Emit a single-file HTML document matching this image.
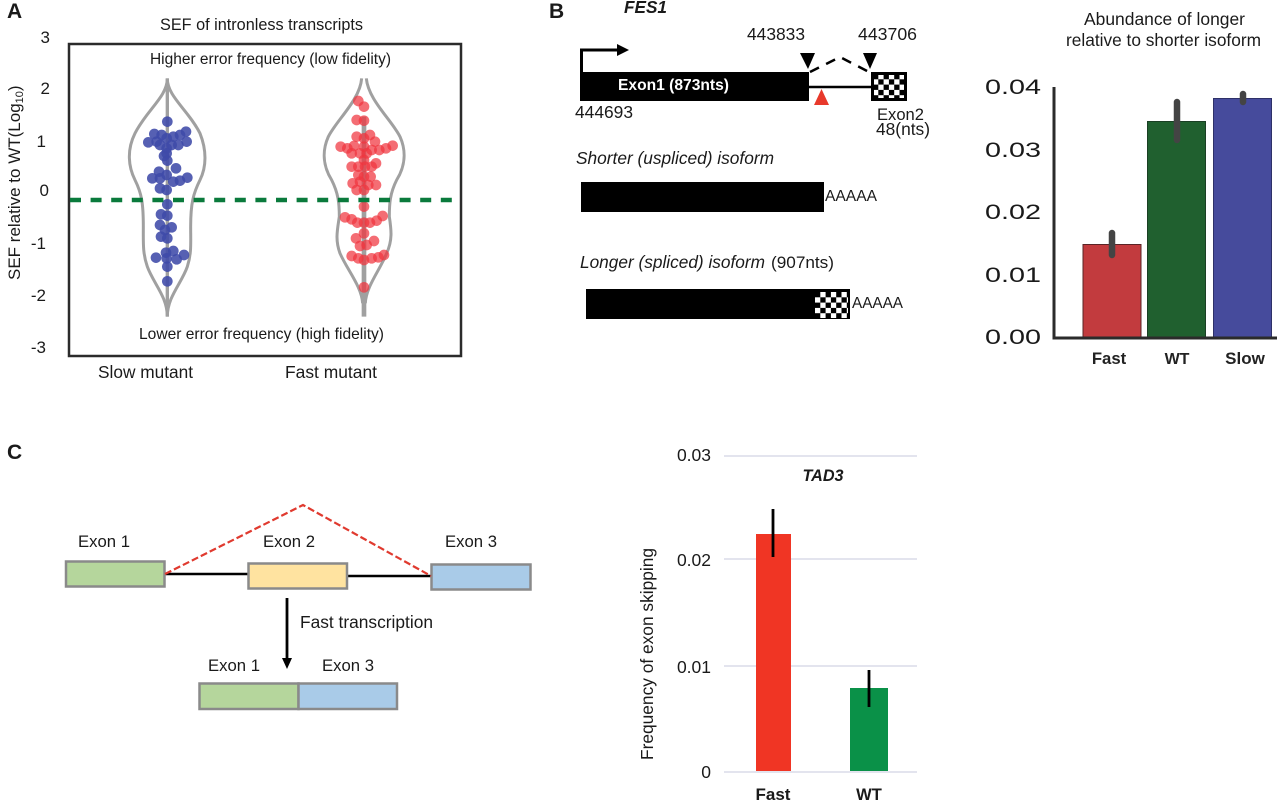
<!DOCTYPE html>
<html><head><meta charset="utf-8"><style>
html,body{margin:0;padding:0;background:#fff}
svg{display:block;filter:blur(0.35px)}
text{font-family:"Liberation Sans",sans-serif;fill:#1a1a1a;font-size:17px}
.b{font-weight:bold}
.i{font-style:italic}
</style></head><body>
<svg width="1280" height="802" viewBox="0 0 1280 802" xmlns="http://www.w3.org/2000/svg">
<defs>
<pattern id="chk" x="873" y="74" width="10.600" height="10.600" patternUnits="userSpaceOnUse">
<rect width="10.600" height="10.600" fill="#fff"/><rect width="5.300" height="5.300" fill="#000"/><rect x="5.300" y="5.300" width="5.300" height="5.300" fill="#000"/>
</pattern>
<pattern id="chk2" x="815" y="292" width="10.600" height="10.600" patternUnits="userSpaceOnUse">
<rect width="10.600" height="10.600" fill="#fff"/><rect width="5.300" height="5.300" fill="#000"/><rect x="5.300" y="5.300" width="5.300" height="5.300" fill="#000"/>
</pattern>
</defs>
<rect width="1280" height="802" fill="#fff"/>

<!-- Panel A -->
<text x="7" y="18" class="b" style="font-size:21px">A</text>
<text x="160" y="30" textLength="203" lengthAdjust="spacingAndGlyphs" style="font-size:16.2px">SEF of intronless transcripts</text>
<rect x="69" y="44" width="392" height="312" fill="none" stroke="#2b2b2b" stroke-width="2.5"/>
<text x="150" y="64" textLength="241" lengthAdjust="spacingAndGlyphs" style="font-size:15.5px">Higher error frequency (low fidelity)</text>
<text x="139" y="339" textLength="245" lengthAdjust="spacingAndGlyphs" style="font-size:15.6px">Lower error frequency (high fidelity)</text>
<text x="98" y="378" textLength="95" lengthAdjust="spacingAndGlyphs" style="font-size:17.3px">Slow mutant</text>
<text x="285" y="378" textLength="92" lengthAdjust="spacingAndGlyphs" style="font-size:17.4px">Fast mutant</text>
<text x="50" y="43" text-anchor="end">3</text>
<text x="50" y="94" text-anchor="end">2</text>
<text x="46" y="147" text-anchor="end">1</text>
<text x="49" y="196" text-anchor="end">0</text>
<text x="46" y="249" text-anchor="end">-1</text>
<text x="46" y="301" text-anchor="end">-2</text>
<text x="46" y="353" text-anchor="end">-3</text>
<text transform="translate(20,280) rotate(-90)">SEF relative to WT(Log<tspan dy="3" style="font-size:11px">10</tspan><tspan dy="-3">)</tspan></text>

<g transform="translate(60,70) scale(0.3333)">
<path d="M322,25 C322,80 260,120 225,190 C200,240 205,290 225,330 C245,370 250,400 250,470 C250,520 248,550 262,590 C280,640 322,680 322,740 C322,680 365,640 382,590 C395,550 392,520 392,470 C392,400 400,370 420,330 C440,290 440,240 420,190 C385,120 322,80 322,25 Z" fill="none" stroke="#a0a0a0" stroke-width="9"/>
<line x1="322" y1="25" x2="322" y2="740" stroke="#a0a0a0" stroke-width="10"/>
<g fill="#3f4aa8" fill-opacity="0.88">
<circle cx="322" cy="155" r="16"/><circle cx="378" cy="185" r="16"/><circle cx="283" cy="192" r="16"/><circle cx="265" cy="217" r="16"/><circle cx="290" cy="215" r="16"/><circle cx="305" cy="195" r="16"/><circle cx="320" cy="205" r="16"/><circle cx="340" cy="200" r="16"/><circle cx="360" cy="195" r="16"/><circle cx="380" cy="215" r="16"/><circle cx="355" cy="225" r="16"/><circle cx="335" cy="225" r="16"/><circle cx="300" cy="225" r="16"/><circle cx="320" cy="235" r="16"/><circle cx="320" cy="250" r="16"/><circle cx="312" cy="258" r="16"/><circle cx="322" cy="272" r="16"/><circle cx="348" cy="295" r="16"/><circle cx="297" cy="305" r="16"/><circle cx="277" cy="325" r="16"/><circle cx="300" cy="325" r="16"/><circle cx="320" cy="315" r="16"/><circle cx="340" cy="335" r="16"/><circle cx="360" cy="332" r="16"/><circle cx="382" cy="323" r="16"/><circle cx="300" cy="355" r="16"/><circle cx="320" cy="360" r="16"/><circle cx="322" cy="403" r="16"/><circle cx="303" cy="433" r="16"/><circle cx="322" cy="437" r="16"/><circle cx="300" cy="465" r="16"/><circle cx="335" cy="472" r="16"/><circle cx="315" cy="480" r="16"/><circle cx="303" cy="500" r="16"/><circle cx="322" cy="505" r="16"/><circle cx="340" cy="543" r="16"/><circle cx="318" cy="548" r="16"/><circle cx="288" cy="563" r="16"/><circle cx="320" cy="565" r="16"/><circle cx="350" cy="568" r="16"/><circle cx="372" cy="555" r="16"/><circle cx="322" cy="590" r="16"/><circle cx="322" cy="634" r="16"/>
</g>
</g>

<g transform="translate(260,70) scale(0.3333)">
<path d="M305,25 C300,90 230,150 205,200 C185,245 190,290 215,330 C235,370 238,400 238,440 C232,480 225,510 240,550 C262,600 305,650 308,700 M319,25 C325,90 395,150 420,200 C440,245 435,290 410,330 C390,370 388,400 388,440 C394,480 398,510 380,550 C360,600 318,650 316,700" fill="none" stroke="#a0a0a0" stroke-width="9"/>
<line x1="312" y1="140" x2="312" y2="740" stroke="#a0a0a0" stroke-width="14"/>
<g fill="#f0353f" fill-opacity="0.72">
<circle cx="295" cy="93" r="16"/><circle cx="312" cy="110" r="16"/><circle cx="290" cy="150" r="16"/><circle cx="312" cy="152" r="16"/><circle cx="290" cy="200" r="16"/><circle cx="312" cy="205" r="16"/><circle cx="330" cy="195" r="16"/><circle cx="345" cy="215" r="16"/><circle cx="242" cy="230" r="16"/><circle cx="262" cy="235" r="16"/><circle cx="282" cy="228" r="16"/><circle cx="312" cy="230" r="16"/><circle cx="335" cy="240" r="16"/><circle cx="358" cy="240" r="16"/><circle cx="378" cy="235" r="16"/><circle cx="398" cy="227" r="16"/><circle cx="275" cy="250" r="16"/><circle cx="300" cy="250" r="16"/><circle cx="320" cy="250" r="16"/><circle cx="312" cy="270" r="16"/><circle cx="348" cy="280" r="16"/><circle cx="275" cy="290" r="16"/><circle cx="295" cy="290" r="16"/><circle cx="315" cy="290" r="16"/><circle cx="335" cy="290" r="16"/><circle cx="295" cy="315" r="16"/><circle cx="312" cy="320" r="16"/><circle cx="332" cy="320" r="16"/><circle cx="278" cy="340" r="16"/><circle cx="300" cy="335" r="16"/><circle cx="325" cy="345" r="16"/><circle cx="348" cy="345" r="16"/><circle cx="290" cy="360" r="16"/><circle cx="312" cy="360" r="16"/><circle cx="312" cy="410" r="16"/><circle cx="255" cy="442" r="16"/><circle cx="275" cy="448" r="16"/><circle cx="292" cy="458" r="16"/><circle cx="312" cy="458" r="16"/><circle cx="330" cy="458" r="16"/><circle cx="350" cy="452" r="16"/><circle cx="368" cy="438" r="16"/><circle cx="312" cy="490" r="16"/><circle cx="288" cy="505" r="16"/><circle cx="342" cy="513" r="16"/><circle cx="300" cy="528" r="16"/><circle cx="320" cy="525" r="16"/><circle cx="275" cy="558" r="16"/><circle cx="295" cy="565" r="16"/><circle cx="312" cy="570" r="16"/><circle cx="335" cy="565" r="16"/><circle cx="355" cy="562" r="16"/><circle cx="372" cy="555" r="16"/><circle cx="312" cy="652" r="16"/>
</g>
</g>
<line x1="70" y1="200" x2="452" y2="200" stroke="#0a7a3c" stroke-width="4.5" stroke-dasharray="11 9.6"/>

<!-- Panel B gene model -->
<text x="549" y="18" class="b" style="font-size:21px">B</text>
<text x="624" y="13" class="b i" textLength="43" lengthAdjust="spacingAndGlyphs" style="font-size:17.2px">FES1</text>
<text x="747" y="40" textLength="58" lengthAdjust="spacingAndGlyphs" style="font-size:17.4px">443833</text>
<text x="858" y="40" textLength="59" lengthAdjust="spacingAndGlyphs" style="font-size:17.4px">443706</text>
<path d="M581.5,73 V50 H619" fill="none" stroke="#000" stroke-width="3"/>
<polygon points="617,44 629,50 617,56" fill="#000"/>
<rect x="580" y="72" width="229" height="29" fill="#000"/>
<text x="618" y="90" class="b" textLength="111" lengthAdjust="spacingAndGlyphs" style="fill:#fff;font-size:15.6px">Exon1 (873nts)</text>
<line x1="809" y1="87" x2="871" y2="87" stroke="#000" stroke-width="2.5"/>
<rect x="872.500" y="73.500" width="33" height="26" fill="url(#chk)" stroke="#000" stroke-width="3"/>
<polygon points="800,53 815,53 808,69" fill="#000"/>
<polygon points="863,53 877,53 870,69" fill="#000"/>
<polygon points="814,105 829,105 821.5,89" fill="#e8392b"/>
<path d="M810,72 L840,57 L869,72" fill="none" stroke="#000" stroke-width="2.5" stroke-dasharray="10 8"/>
<text x="575" y="118" textLength="58" lengthAdjust="spacingAndGlyphs" style="font-size:17.4px">444693</text>
<text x="877" y="120" textLength="47" lengthAdjust="spacingAndGlyphs" style="font-size:16.6px">Exon2</text>
<text x="876" y="135" textLength="54" lengthAdjust="spacingAndGlyphs" style="font-size:17.3px">48(nts)</text>

<text x="576" y="164" class="i" textLength="198" lengthAdjust="spacingAndGlyphs" style="font-size:17.3px">Shorter (uspliced) isoform</text>
<rect x="581" y="182" width="243" height="30" fill="#000"/>
<text x="825" y="201" textLength="52" lengthAdjust="spacingAndGlyphs" style="font-size:15.6px">AAAAA</text>
<text x="580" y="268" class="i" textLength="185" lengthAdjust="spacingAndGlyphs" style="font-size:17.2px">Longer (spliced) isoform</text>
<text x="771" y="268" textLength="63" lengthAdjust="spacingAndGlyphs" style="font-size:16.4px">(907nts)</text>
<rect x="586" y="289" width="264" height="30" fill="#000"/>
<rect x="815" y="292" width="33" height="26" fill="url(#chk2)"/>
<text x="852" y="308" textLength="51" lengthAdjust="spacingAndGlyphs" style="font-size:15.4px">AAAAA</text>

<!-- Panel B bars -->
<text x="1084" y="25" textLength="161" lengthAdjust="spacingAndGlyphs" style="font-size:17.4px">Abundance of longer</text>
<text x="1066" y="46" textLength="195" lengthAdjust="spacingAndGlyphs" style="font-size:17.3px">relative to shorter isoform</text>
<text x="985" y="94" textLength="56" lengthAdjust="spacingAndGlyphs" style="font-size:21.5px">0.04</text>
<text x="985" y="157" textLength="56" lengthAdjust="spacingAndGlyphs" style="font-size:21.5px">0.03</text>
<text x="985" y="219" textLength="56" lengthAdjust="spacingAndGlyphs" style="font-size:21.5px">0.02</text>
<text x="985" y="282" textLength="56" lengthAdjust="spacingAndGlyphs" style="font-size:21.5px">0.01</text>
<text x="985" y="344" textLength="56" lengthAdjust="spacingAndGlyphs" style="font-size:21.5px">0.00</text>
<rect x="1083" y="244.500" width="58" height="93" fill="#c23b3e" stroke="#5a2426" stroke-width="1"/>
<rect x="1147.500" y="121.500" width="58" height="216" fill="#20602f" stroke="#1a3f24" stroke-width="1"/>
<rect x="1213.500" y="98.500" width="58" height="239" fill="#464b9c" stroke="#2e3168" stroke-width="1"/>
<g stroke="#444" stroke-width="6.500" stroke-linecap="round">
<line x1="1112" y1="233" x2="1112" y2="255"/>
<line x1="1177" y1="102" x2="1177" y2="140"/>
<line x1="1243" y1="94" x2="1243" y2="102"/>
</g>
<path d="M1054,87 V338 H1277" fill="none" stroke="#2b2b2b" stroke-width="3"/>
<text x="1109" y="364" text-anchor="middle" class="b" style="font-size:16.7px;fill:#222">Fast</text>
<text x="1177" y="364" text-anchor="middle" class="b" style="font-size:16px;fill:#222">WT</text>
<text x="1245" y="364" text-anchor="middle" class="b" style="font-size:17px;fill:#222">Slow</text>

<!-- Panel C -->
<text x="7" y="459" class="b" style="font-size:21px">C</text>
<text x="104" y="547" text-anchor="middle" style="font-size:16.7px">Exon 1</text>
<text x="289" y="547" text-anchor="middle" style="font-size:16.7px">Exon 2</text>
<text x="471" y="547" text-anchor="middle" style="font-size:16.7px">Exon 3</text>
<line x1="165" y1="574" x2="248" y2="574" stroke="#000" stroke-width="2.5"/>
<line x1="347" y1="576" x2="431" y2="576" stroke="#000" stroke-width="2.5"/>
<rect x="66" y="561.500" width="98.500" height="25" fill="#b5d69c" stroke="#8a8a8a" stroke-width="2.500"/>
<rect x="248.500" y="563.500" width="98.500" height="25" fill="#ffe3a0" stroke="#8a8a8a" stroke-width="2.500"/>
<rect x="431.500" y="564.500" width="99" height="25" fill="#a9cbe8" stroke="#8a8a8a" stroke-width="2.500"/>
<path d="M165,574 L303,505 L431,576" fill="none" stroke="#e03a2f" stroke-width="2.2" stroke-dasharray="7 3"/>
<line x1="287" y1="598" x2="287" y2="660" stroke="#000" stroke-width="2.8"/>
<polygon points="282,658 292,658 287,669" fill="#000"/>
<text x="300" y="628" textLength="133" lengthAdjust="spacingAndGlyphs" style="font-size:17.3px">Fast transcription</text>
<text x="234" y="671" text-anchor="middle" style="font-size:16.7px">Exon 1</text>
<text x="348" y="671" text-anchor="middle" style="font-size:16.7px">Exon 3</text>
<rect x="199.500" y="683.500" width="99" height="25.500" fill="#b5d69c" stroke="#8a8a8a" stroke-width="2.500"/>
<rect x="298.500" y="683.500" width="98.500" height="25.500" fill="#a9cbe8" stroke="#8a8a8a" stroke-width="2.500"/>

<!-- TAD3 chart -->
<g stroke="#e3e4ee" stroke-width="2">
<line x1="724" y1="456" x2="917" y2="456"/>
<line x1="724" y1="559" x2="917" y2="559"/>
<line x1="724" y1="666" x2="917" y2="666"/>
<line x1="724" y1="772" x2="917" y2="772"/>
</g>
<text x="711" y="461" text-anchor="end" style="font-size:17.5px">0.03</text>
<text x="711" y="566" text-anchor="end" style="font-size:17.5px">0.02</text>
<text x="711" y="673" text-anchor="end" style="font-size:17.5px">0.01</text>
<text x="711" y="778" text-anchor="end" style="font-size:17.5px">0</text>
<text x="823" y="481" text-anchor="middle" class="b i" style="font-size:16.2px">TAD3</text>
<rect x="756" y="534" width="35" height="237" fill="#f03524"/>
<rect x="850" y="688" width="38" height="83" fill="#0a9148"/>
<line x1="773" y1="509" x2="773" y2="557" stroke="#000" stroke-width="2.8"/>
<line x1="869" y1="670" x2="869" y2="707" stroke="#000" stroke-width="2.8"/>
<text x="773" y="800" text-anchor="middle" class="b" style="font-size:17px">Fast</text>
<text x="869" y="800" text-anchor="middle" class="b" style="font-size:16.5px">WT</text>
<text transform="translate(653,760) rotate(-90)" textLength="212" lengthAdjust="spacingAndGlyphs" style="font-size:17.3px">Frequency of exon skipping</text>
</svg>
</body></html>
